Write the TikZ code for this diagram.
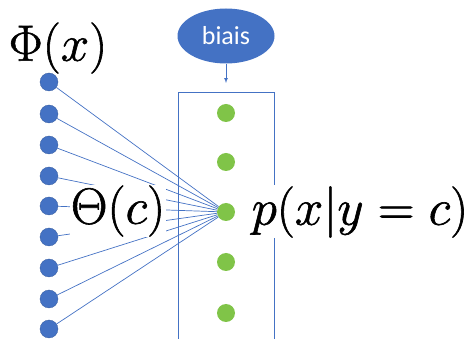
\RequirePackage{fix-cm}
\documentclass[tikz,border=0pt]{standalone}
\usepackage{amsmath}
\usepackage{fontspec}
\usepackage{tikz}
\usetikzlibrary{shapes.geometric}
\newfontfamily\carlito{Carlito}
\definecolor{netblue}{RGB}{68,114,196}
\definecolor{netgreen}{RGB}{128,196,72}
\newcommand\heavytext[1]{\special{pdf:literal direct 2 Tr 0.6 w}#1\special{pdf:literal direct 0 Tr}}
\tikzset{
  inputdot/.style={circle, fill=netblue, draw=netblue!80!black, line width=0.3pt, minimum size=18pt, inner sep=0pt},
  outdot/.style={circle, fill=netgreen, minimum size=18pt, inner sep=0pt},
  wline/.style={netblue, line width=0.7pt},
  bigmath/.style={font=\fontsize{51}{58}\selectfont, inner sep=1pt},
}

\begin{document}
\begin{tikzpicture}[x=1pt, y=-1pt]
                \useasboundingbox (0,0) rectangle (467,339);

                % Nodes
                \node[inputdot] (x1) at (49,82) {};
                \node[inputdot] (x2) at (49,114) {};
                \node[inputdot] (x3) at (49,145) {};
                \node[inputdot] (x4) at (49,176) {};
                \node[inputdot] (x5) at (49,206) {};
                \node[inputdot] (x6) at (49,237) {};
                \node[inputdot] (x7) at (49,268) {};
                \node[inputdot] (x8) at (49,299) {};
                \node[inputdot] (x9) at (49,329) {};
                \node[outdot] (y1) at (226,113) {};
                \node[outdot] (y2) at (226,162) {};
                \node[outdot] (y3) at (226,212) {};
                \node[outdot] (y4) at (226,262) {};
                \node[outdot] (y5) at (226,313) {};
                \node[ellipse, fill=netblue, minimum width=97pt, minimum height=55pt, text=white, font=\carlito\fontsize{26}{30}\selectfont] (biais) at (226,36) {biais};
                \coordinate (top) at (226,83);

                % Box
                \draw[wline] (178,339) -- (178,92) -- (274,92) -- (274,339);

                % Edges
                \draw[wline] (x1)--(y3);
                \draw[wline] (x2)--(y3);
                \draw[wline] (x3)--(y3);
                \draw[wline] (x4)--(y3);
                \draw[wline] (x5)--(y3);
                \draw[wline] (x6)--(y3);
                \draw[wline] (x7)--(y3);
                \draw[wline] (x8)--(y3);
                \draw[wline] (x9)--(y3);
                \draw[wline, -latex] (biais)--(top);

                % Labels
                \node[bigmath] (phi) at (58,48) {\heavytext{$\Phi(x)$}};
                \node[bigmath, fill=white] (theta) at (118,211) {\heavytext{$\Theta(c)$}};
                \node[bigmath, fill=white] (proba) at (360,212) {\heavytext{$p(x|y=c)$}};
            \end{tikzpicture}
\end{document}
